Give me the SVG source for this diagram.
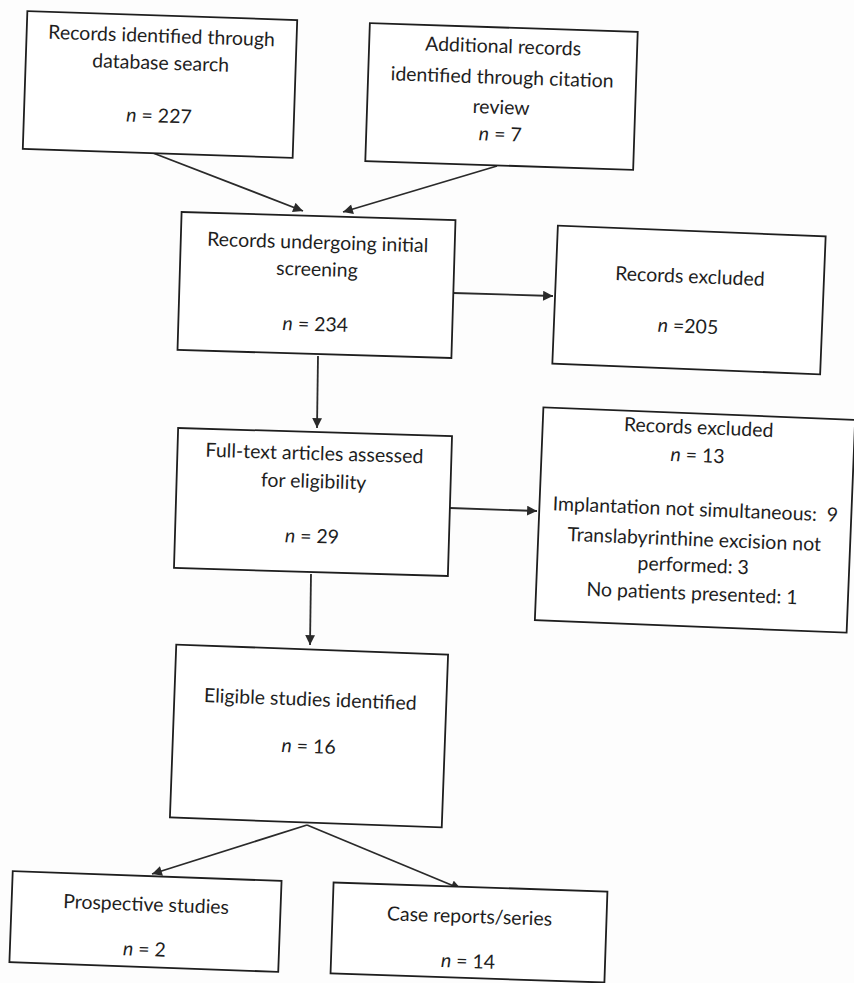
<svg xmlns="http://www.w3.org/2000/svg" width="854" height="983" viewBox="0 0 854 983">
<style>
.box{fill:#fff;stroke:#1e1e1e;stroke-width:1.8}
.t{font-family:Lato,"Open Sans","Liberation Sans",sans-serif;font-size:19.5px;fill:#1e1e1e;text-anchor:middle;white-space:pre}
.n{font-style:italic}
.c{stroke:#2a2a2a;stroke-width:1.8;fill:none;marker-end:url(#ah)}
</style>
<defs>
<marker id="ah" viewBox="0 0 10 10" refX="10" refY="5" markerWidth="6" markerHeight="5.5" orient="auto" markerUnits="strokeWidth">
<path d="M0,0 L10,5 L0,10 z" fill="#2a2a2a"/>
</marker>
</defs>
<rect width="854" height="983" fill="#fdfdfd"/>
<g id="connectors">
<line class="c" x1="153" y1="153" x2="303" y2="211"/>
<line class="c" x1="497" y1="166" x2="343" y2="212"/>
<line class="c" x1="453" y1="293" x2="553" y2="296"/>
<line class="c" x1="318" y1="356" x2="317" y2="428"/>
<line class="c" x1="450" y1="508" x2="537" y2="511"/>
<line class="c" x1="311" y1="574" x2="310" y2="645"/>
<line class="c" x1="307" y1="825" x2="152" y2="874"/>
<line class="c" x1="307" y1="825" x2="461" y2="889"/>
</g>
<g id="database" transform="rotate(1.9 160 84.5)">
<rect class="box" x="25" y="15.5" width="270" height="138"/>
<text class="t" x="160" y="42.5">Records identified through</text>
<text class="t" x="160" y="69.5">database search</text>
<text class="t" x="160" y="122.5"><tspan class="n">n</tspan> = 227</text>
</g>
<g id="citation" transform="rotate(1.9 501.5 96.5)">
<rect class="box" x="367.5" y="27.5" width="268" height="138"/>
<text class="t" x="501.5" y="53">Additional records</text>
<text class="t" x="501.5" y="84">identified through citation</text>
<text class="t" x="501.5" y="114">review</text>
<text class="t" x="501.5" y="141"><tspan class="n">n</tspan> = 7</text>
</g>
<g id="screening" transform="rotate(1.7 316.5 285)">
<rect class="box" x="179.5" y="216" width="274" height="138"/>
<text class="t" x="316.5" y="249">Records undergoing initial</text>
<text class="t" x="316.5" y="276">screening</text>
<text class="t" x="316.5" y="331"><tspan class="n">n</tspan> = 234</text>
</g>
<g id="excluded1" transform="rotate(2.3 689 300)">
<rect class="box" x="555" y="231" width="268" height="138"/>
<text class="t" x="689" y="283">Records excluded</text>
<text class="t" x="689" y="333"><tspan class="n">n</tspan> =205</text>
</g>
<g id="fulltext" transform="rotate(1.7 313 502)">
<rect class="box" x="176" y="432" width="274" height="140"/>
<text class="t" x="313" y="460">Full-text articles assessed</text>
<text class="t" x="313" y="488">for eligibility</text>
<text class="t" x="313" y="543"><tspan class="n">n</tspan> = 29</text>
</g>
<g id="excluded2" transform="rotate(2.3 695 520)">
<rect class="box" x="539" y="413.5" width="312" height="213"/>
<text class="t" x="695" y="434">Records excluded</text>
<text class="t" x="695" y="462"><tspan class="n">n</tspan> = 13</text>
<text class="t" x="695" y="516">Implantation not simultaneous:  9</text>
<text class="t" x="695" y="546">Translabyrinthine excision not</text>
<text class="t" x="695" y="572">performed: 3</text>
<text class="t" x="695" y="600">No patients presented: 1</text>
</g>
<g id="eligible" transform="rotate(2.1 309 736)">
<rect class="box" x="173" y="649.5" width="272" height="173"/>
<text class="t" x="309" y="706">Eligible studies identified</text>
<text class="t" x="309" y="753"><tspan class="n">n</tspan> = 16</text>
</g>
<g id="prospective" transform="rotate(2.1 145.5 921)">
<rect class="box" x="11" y="876" width="269" height="91"/>
<text class="t" x="145.5" y="911">Prospective studies</text>
<text class="t" x="145.5" y="956"><tspan class="n">n</tspan> = 2</text>
</g>
<g id="casereports" transform="rotate(1.9 469 932)">
<rect class="box" x="332" y="887" width="274" height="91"/>
<text class="t" x="469" y="923">Case reports/series</text>
<text class="t" x="469" y="968"><tspan class="n">n</tspan> = 14</text>
</g>
</svg>
